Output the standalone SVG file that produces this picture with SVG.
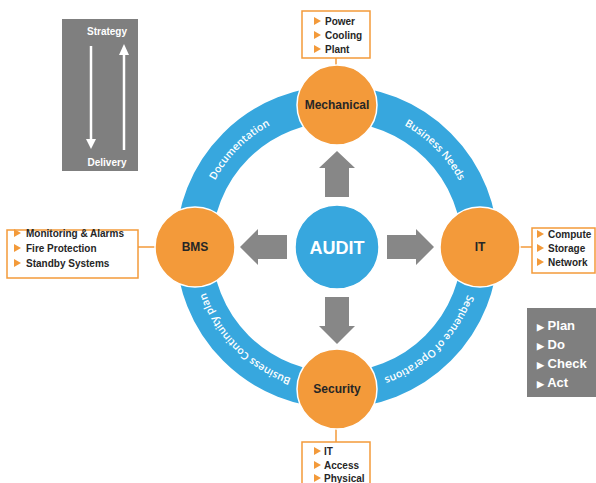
<svg xmlns="http://www.w3.org/2000/svg" xmlns:xlink="http://www.w3.org/1999/xlink" width="596" height="483" viewBox="0 0 596 483">
<defs>
<style>
.ring{fill:none;stroke:#37A7DE;stroke-width:36}
.node{fill:#F39A3A;stroke:#fff;stroke-width:1.5}
.lbl{font-family:"Liberation Sans",Arial,sans-serif;font-weight:bold;font-size:12px;fill:#262626;text-anchor:middle}
.box{fill:#fff;stroke:#F39A3A;stroke-width:1.5}
.item{font-family:"Liberation Sans",Arial,sans-serif;font-weight:bold;font-size:10px;fill:#262626}
.bul{fill:#F39A3A}
.arc{font-family:"Open Sans","Liberation Sans",sans-serif;font-weight:600;font-size:10.5px;fill:#fff;text-anchor:middle}
.blk{fill:#878787}
.conn{stroke:#F39A3A;stroke-width:1.5;fill:none}
.gray{fill:#7F7F7F}
.wt{font-family:"Liberation Sans",Arial,sans-serif;font-weight:bold;fill:#fff}
</style>
<path id="ringpath" d="M198,247 A139,139 0 1 1 476,247 A139,139 0 1 1 198,247"/>
<polygon id="bl" points="0,-4 7,0 0,4"/>
</defs>

<g id="strategy-panel">
<rect class="gray" x="62" y="19" width="76" height="152"/>
<text class="wt" x="107" y="35" font-size="10" text-anchor="middle">Strategy</text>
<text class="wt" x="107" y="166" font-size="10" text-anchor="middle">Delivery</text>
<line x1="91" y1="46" x2="91" y2="140" stroke="#fff" stroke-width="2.5"/>
<polygon points="86,139 96,139 91,149" fill="#fff"/>
<line x1="124" y1="150" x2="124" y2="54" stroke="#fff" stroke-width="2.5"/>
<polygon points="119,55 129,55 124,44" fill="#fff"/>
</g>

<g id="pdca-panel">
<rect class="gray" x="527" y="308" width="69" height="89"/>
<g class="wt" font-size="13">
<text x="537" y="330"><tspan font-size="9">▶</tspan> Plan</text>
<text x="537" y="349"><tspan font-size="9">▶</tspan> Do</text>
<text x="537" y="368"><tspan font-size="9">▶</tspan> Check</text>
<text x="537" y="387"><tspan font-size="9">▶</tspan> Act</text>
</g>
</g>

<g id="ring">
<circle class="ring" cx="337" cy="247" r="143"/>
<text class="arc"><textPath xlink:href="#ringpath" href="#ringpath" startOffset="109">Documentation</textPath></text>
<text class="arc"><textPath xlink:href="#ringpath" href="#ringpath" startOffset="328">Business Needs</textPath></text>
<text class="arc"><textPath xlink:href="#ringpath" href="#ringpath" startOffset="546">Sequence of Operations</textPath></text>
<text class="arc"><textPath xlink:href="#ringpath" href="#ringpath" startOffset="764">Business Continuity plan</textPath></text>
</g>

<g id="connectors">
<polygon class="blk" points="387,235 416,235 416,229 434,247 416,265 416,259 387,259"/>
<polygon class="blk" points="287,235 258,235 258,229 240,247 258,265 258,259 287,259"/>
<polygon class="blk" points="325,297 325,326 319,326 337,344 355,326 349,326 349,297"/>
<polygon class="blk" points="325,197 325,168 319,168 337,151 355,168 349,168 349,197"/>
<line class="conn" x1="336" y1="58" x2="336" y2="66"/>
<line class="conn" x1="138" y1="247" x2="156" y2="247"/>
<line class="conn" x1="519" y1="247" x2="532" y2="247"/>
<line class="conn" x1="336" y1="428" x2="336" y2="442"/>
</g>

<g id="audit">
<circle cx="337" cy="247" r="42" fill="#37A7DE" stroke="#fff" stroke-width="1.5"/>
<text class="wt" x="337" y="254" font-size="18" text-anchor="middle">AUDIT</text>
</g>

<g id="mechanical">
<circle class="node" cx="337" cy="105" r="40"/>
<text class="lbl" x="337" y="109">Mechanical</text>
<rect class="box" x="302" y="11" width="68" height="47"/>
<use href="#bl" xlink:href="#bl" class="bul" x="314" y="21"/>
<use href="#bl" xlink:href="#bl" class="bul" x="314" y="35"/>
<use href="#bl" xlink:href="#bl" class="bul" x="314" y="49"/>
<text class="item" x="325" y="25">Power</text>
<text class="item" x="325" y="39">Cooling</text>
<text class="item" x="325" y="53">Plant</text>
</g>

<g id="bms">
<circle class="node" cx="195" cy="247" r="40"/>
<text class="lbl" x="195" y="251">BMS</text>
<rect class="box" x="7" y="230" width="131" height="48"/>
<use href="#bl" xlink:href="#bl" class="bul" x="14" y="233"/>
<use href="#bl" xlink:href="#bl" class="bul" x="14" y="248"/>
<use href="#bl" xlink:href="#bl" class="bul" x="14" y="263"/>
<text class="item" x="26" y="237">Monitoring &amp; Alarms</text>
<text class="item" x="26" y="252">Fire Protection</text>
<text class="item" x="26" y="267">Standby Systems</text>
</g>

<g id="it">
<circle class="node" cx="480" cy="247" r="40"/>
<text class="lbl" x="480" y="251">IT</text>
<rect class="box" x="532" y="228" width="63" height="45"/>
<use href="#bl" xlink:href="#bl" class="bul" x="537" y="234"/>
<use href="#bl" xlink:href="#bl" class="bul" x="537" y="248"/>
<use href="#bl" xlink:href="#bl" class="bul" x="537" y="262"/>
<text class="item" x="548" y="238">Compute</text>
<text class="item" x="548" y="252">Storage</text>
<text class="item" x="548" y="266">Network</text>
</g>

<g id="security">
<circle class="node" cx="337" cy="389" r="40"/>
<text class="lbl" x="337" y="393">Security</text>
<rect class="box" x="302" y="442" width="68" height="50"/>
<use href="#bl" xlink:href="#bl" class="bul" x="314" y="451"/>
<use href="#bl" xlink:href="#bl" class="bul" x="314" y="465"/>
<use href="#bl" xlink:href="#bl" class="bul" x="314" y="478"/>
<text class="item" x="324" y="455">IT</text>
<text class="item" x="324" y="469">Access</text>
<text class="item" x="324" y="482">Physical</text>
</g>
</svg>
